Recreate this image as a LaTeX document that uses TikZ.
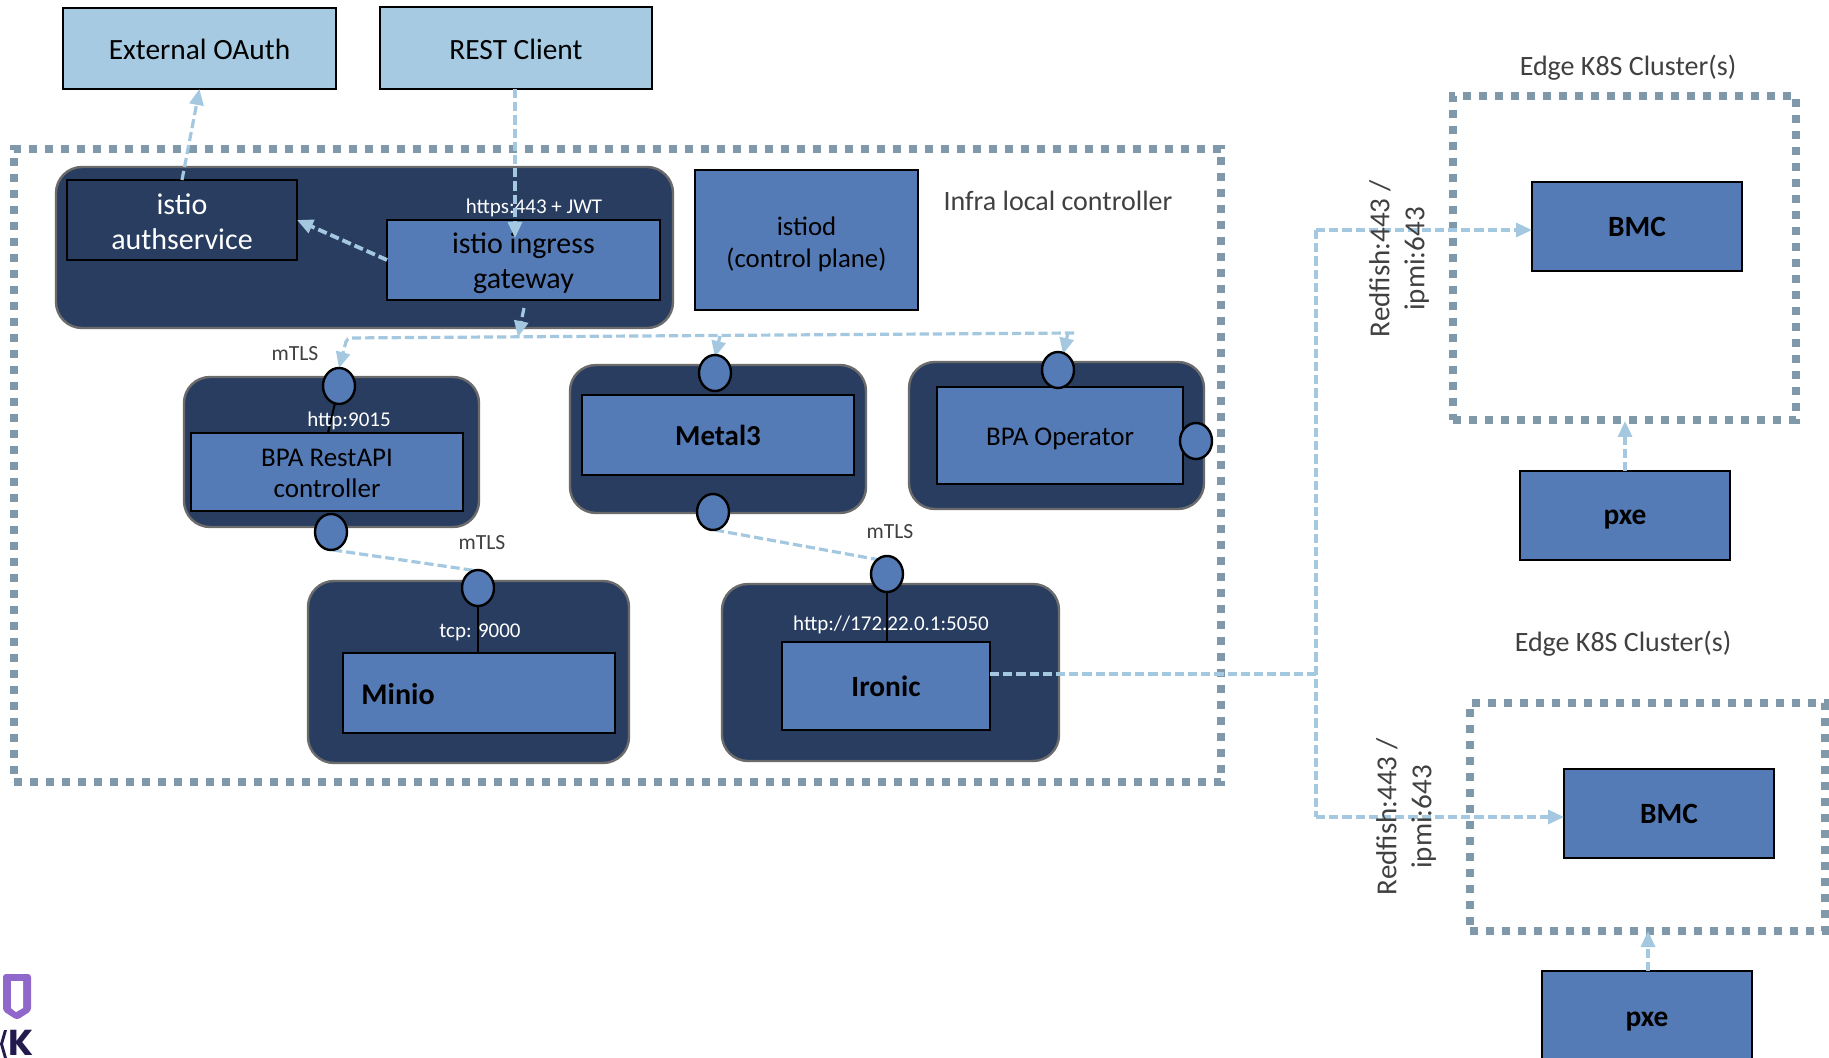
\documentclass[tikz,border=0pt]{standalone}
\usepackage{fontspec}
\setmainfont{Carlito}
\newfontfamily\logofont{Poppins}
\usetikzlibrary{arrows.meta,shapes.geometric}
\definecolor{lightfill}{HTML}{A6CAE2}
\definecolor{midfill}{HTML}{557BB6}
\definecolor{darkfill}{HTML}{283D60}
\definecolor{dotcol}{HTML}{7F99AB}
\definecolor{flowcol}{HTML}{A3C8E0}
\definecolor{txtgrey}{HTML}{404040}
\newcommand{\dn}[1]{\rule{0pt}{#1pt}}
\tikzset{
  x=0.5pt,y=-0.5pt,
  wh/.style 2 args={minimum width=#1*0.5pt,minimum height=#2*0.5pt,inner sep=0pt,outer sep=0pt},
  lightbox/.style={draw=black,line width=1.3pt,fill=lightfill,text=black,font=\fontsize{14.7}{18}\selectfont,align=center},
  midbox/.style={draw=black,line width=1.3pt,fill=midfill,text=black,font=\fontsize{14}{16}\selectfont,align=center},
  boldbox/.style={midbox,font=\fontsize{14.7}{17}\selectfont\bfseries},
  darkbox/.style={draw=black,line width=1.3pt,fill=darkfill,text=white,font=\fontsize{15}{17.5}\selectfont,align=center},
  groupbox/.style={draw=black!58,line width=1.2pt,fill=darkfill,rounded corners=13pt},
  dotbox/.style={draw=dotcol,line width=3.7pt,dash pattern=on 4pt off 4pt},
  flow/.style={draw=flowcol,line width=1.6pt,dash pattern=on 4.6pt off 2pt},
  flowarrow/.style={flow,-{Triangle[length=8pt,width=7pt,fill=flowcol]}},
  port/.style={ellipse,draw=black,line width=1.2pt,fill=midfill,minimum width=16pt,minimum height=18pt,inner sep=0pt},
  stem/.style={draw=black,line width=1pt},
  smalllabel/.style={text=txtgrey,font=\fontsize{10.8}{13}\selectfont,inner sep=0pt},
  whitelabel/.style={text=white,font=\fontsize{10.5}{13}\selectfont,inner sep=0pt},
  biglabel/.style={text=txtgrey,font=\fontsize{14}{17}\selectfont,align=center,inner sep=0pt},
}
\begin{document}
\begin{tikzpicture}
\path[use as bounding box] (0,0) rectangle (1829,1058);
\clip (0,0) rectangle (1829,1058);

% frames
\node[wh={1207}{633},dotbox] (infra) at (617.5,465.5) {};
\node[wh={343}{324},dotbox] (edgeA) at (1624.5,258) {};
\node[wh={355}{228},dotbox] (edgeB) at (1647.5,817) {};

% top boxes
\node[wh={273}{81},lightbox] (oauth) at (199.5,48.5) {\dn{11.5}External OAuth};
\node[wh={272}{82},lightbox] (rest) at (516,48) {\dn{11.5}REST Client};

% groups
\node[wh={617}{161},groupbox] (gwgroup) at (364.5,247.5) {};
\node[wh={295}{150},groupbox] (bpagroup) at (331.5,452) {};
\node[wh={296}{148},groupbox] (metalgroup) at (718,439) {};
\node[wh={295}{147},groupbox] (opgroup) at (1056.5,435.5) {};
\node[wh={321}{182},groupbox] (miniogroup) at (468.5,672) {};
\node[wh={337}{177},groupbox] (ironicgroup) at (890.5,672.5) {};

% inner boxes
\node[wh={230}{80},darkbox] (auth) at (182,220) {\dn{12.2}istio\\authservice};
\node[wh={273}{80},midbox,font=\fontsize{15}{17.5}\selectfont] (ingress) at (523.5,260) {\dn{13.7}istio ingress\\gateway};
\node[wh={223}{140},midbox,font=\fontsize{13.4}{16}\selectfont] (istiod) at (806.5,240) {\dn{13.4}istiod\\(control plane)};
\node[wh={272}{78},midbox,font=\fontsize{13.5}{15.4}\selectfont] (bpa) at (327,472) {\dn{10.4}BPA RestAPI\\controller};
\node[wh={272}{80},boldbox,font=\fontsize{14.5}{17}\selectfont\bfseries] (metal) at (718,435) {Metal3};
\node[wh={246}{97},midbox,font=\fontsize{13.5}{16}\selectfont] (operator) at (1060,435.5) {\dn{12.5}BPA Operator};
\node[wh={272}{80},boldbox] (minio) at (479,693) {};
\node[boldbox,draw=none,fill=none,font=\fontsize{15}{17}\selectfont\bfseries] (miniotxt) at (398,694) {Minio};
\node[wh={208}{88},boldbox] (ironic) at (886,686) {Ironic};
\node[wh={210}{89},boldbox] (bmcA) at (1637,226.5) {BMC};
\node[wh={210}{89},boldbox] (pxeA) at (1625,515.5) {\dn{11.6}pxe};
\node[wh={210}{89},boldbox] (bmcB) at (1669,813.5) {BMC};
\node[wh={210}{92},boldbox] (pxeB) at (1647,1017) {\dn{11.6}pxe};

% stems (ports are placed here so that they can be named first)
\coordinate (pbpat) at (339,386);
\coordinate (bpastem) at (328,433);
\draw[stem] (pbpat) -- (bpastem);
\coordinate (pminioc) at (478,588);
\coordinate (pironicc) at (887,574);
\draw[stem] (pminioc) -- (pminioc |- minio.north);
\draw[stem] (pironicc) -- (pironicc |- ironic.north);

% labels
\node[biglabel,font=\fontsize{14}{17}\selectfont] (infralabel) at (1058,201) {Infra local controller};
\node[biglabel] (edgeAlabel) at (1628,68) {Edge K8S Cluster(s)};
\node[biglabel] (edgeBlabel) at (1623,644) {Edge K8S Cluster(s)};
\node[smalllabel] (m1) at (295,354) {mTLS};
\node[smalllabel] (m2) at (482,543) {mTLS};
\node[smalllabel] (m3) at (890,532) {mTLS};
\node[whitelabel] (l1) at (534,207.5) {https:443 + JWT};
\node[whitelabel] (l2) at (349,420.5) {http:9015};
\node[whitelabel] (l3) at (480,632) {tcp: 9000};
\node[whitelabel] (l4) at (891,624.5) {http://172.22.0.1:5050};

% connector end points
\coordinate (ingtip) at (515,238);
\coordinate (ingout) at (524,308);
\coordinate (busin) at (518,337);
\coordinate (busw) at (347,338);
\coordinate (buse) at (1074,333);
\coordinate (drop1) at (720,336);
\coordinate (drop2) at (1068,333);
\coordinate (tip1) at (715,357);
\coordinate (tip2) at (1063,354);
\coordinate (bpatip) at (339,368);
\coordinate (bpaout) at (333,550);
\coordinate (minioin) at (478,571);
\coordinate (metalout) at (715,530);
\coordinate (ironicin) at (880,560);
\coordinate (irout) at (990,674);
\coordinate (junction) at (1316,674);
\coordinate (busn) at (1316,230);
\coordinate (buss) at (1316,817);
\coordinate (bmcAin) at (1532,230);
\coordinate (bmcBin) at (1564,817);
\coordinate (pxeAout) at (1625,471);
\coordinate (edgeAin) at (1625,421);
\coordinate (pxeBout) at (1648,971);
\coordinate (edgeBin) at (1648,931);

% connectors
\draw[flowarrow] (auth.north) -- (oauth.south);
\draw[flowarrow] (rest.south -| ingtip) -- (ingtip);
\draw[flowarrow,line width=1.9pt] (ingress.west) -- (auth.east);
\draw[flowarrow] (ingout) -- (busin);
\draw[flowarrow,rounded corners=2pt] (buse) -- (busw) -- (bpatip);
\draw[flowarrow] (drop1) -- (tip1);
\draw[flowarrow] (drop2) -- (tip2);
\draw[flow] (bpaout) -- (minioin);
\draw[flow] (metalout) -- (ironicin);
\draw[flow] (irout) -- (junction);
\draw[flowarrow] (busn) -- (bmcAin);
\draw[flowarrow] (buss) -- (bmcBin);
\draw[flow] (busn) -- (buss);
\draw[flowarrow] (pxeAout) -- (edgeAin);
\draw[flowarrow] (pxeBout) -- (edgeBin);

% ports
\node[port] (portbpat) at (pbpat) {};
\node[port] (pbpab) at (331,532) {};
\node[port] (pmetalt) at (715,373) {};
\node[port] (pmetalb) at (713,512) {};
\node[port] (popt) at (1058,370) {};
\node[port] (popr) at (1196,441) {};
\node[port] (pminio) at (pminioc) {};
\node[port] (pironic) at (pironicc) {};

% rotated labels
\node[biglabel,rotate=90,font=\fontsize{14.5}{17.5}\selectfont] (rfA) at (1399,259) {Redfish:443 /\\ipmi:643};
\node[biglabel,rotate=90,font=\fontsize{14.5}{17.5}\selectfont] (rfB) at (1406,817) {Redfish:443 /\\ipmi:643};

% logo fragment
\fill[fill={rgb,255:red,144;green,104;blue,204},rounded corners=1.5pt] (3,974) -- (31,974) -- (31,1011) -- (17,1020) -- (3,1011) -- cycle;
\fill[white] (11,981) -- (23,981) -- (23,1008) -- (16,1012) -- (11,1008) -- cycle;
\fill[fill={rgb,255:red,35;green,26;blue,78}] (0,1044) -- (4,1030) -- (7,1030) -- (3,1044) -- (7,1058) -- (4,1058) -- cycle;
\node[anchor=base west,inner sep=0pt,text={rgb,255:red,35;green,26;blue,78},font=\logofont\bfseries\fontsize{18}{20}\selectfont] (logok) at (8,1055) {K};
\end{tikzpicture}
\end{document}
